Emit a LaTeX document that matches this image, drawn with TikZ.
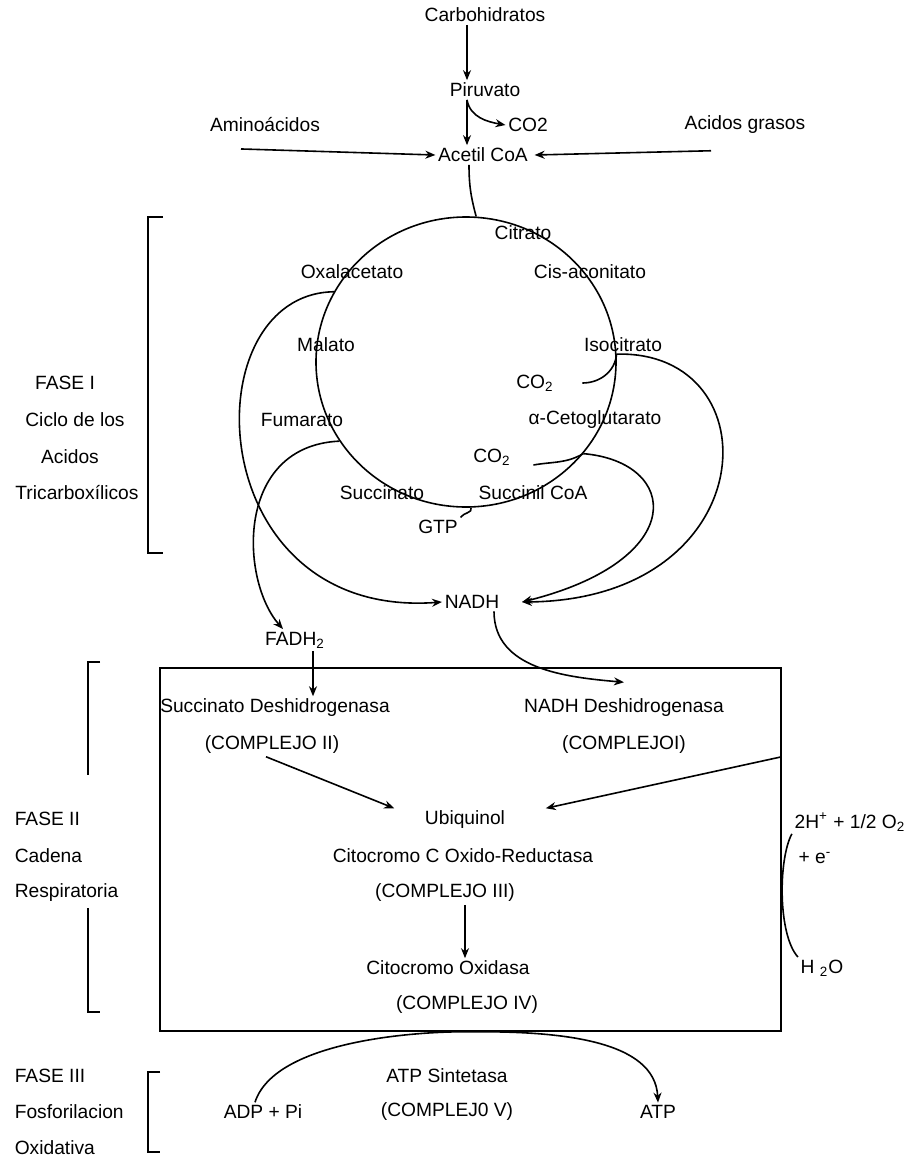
\documentclass[tikz,border=0pt]{standalone}
\usepackage{fontspec}
\setmainfont{Liberation Sans}
\usepackage{tikz}
\usetikzlibrary{arrows.meta,shapes.geometric}
\tikzset{txt/.style = {inner sep=1pt, font=\fontsize{9.6pt}{11pt}\selectfont}}
\tikzset{lft/.style = {txt, anchor=west}}
\tikzset{cycle/.style = {draw, ellipse, minimum width=150pt, minimum height=145pt}}

\begin{document}
\begin{tikzpicture}[x=0.5pt, y=-0.5pt, line width=0.8pt, >={Stealth[length=5pt,width=4pt]}]
\useasboundingbox (0,0) rectangle (915,1162);

% entrada
\node[txt] (carb) at (485,15) {Carbohidratos};
\node[txt] (piru) at (485,90) {Piruvato};
\node[txt] (co2a) at (528,125) {CO2};
\node[txt] (amino) at (265,125) {Aminoácidos};
\node[txt] (acgr) at (745,125) {Acidos grasos};
\node[txt] (acoa) at (483,155) {Acetil CoA};

% ciclo
\node[cycle] (cyc) at (466,362) {};
\node[txt] (citr) at (523,233) {Citrato};
\node[txt] (oxa) at (352,272) {Oxalacetato};
\node[txt] (cisa) at (590,272) {Cis-aconitato};
\node[txt] (mal) at (326,345) {Malato};
\node[txt] (isoc) at (623,345) {Isocitrato};
\node[txt] (co2b) at (535,383) {CO\textsubscript{2}};
\node[txt] (fum) at (302,420) {Fumarato};
\node[txt] (akg) at (595,420) {α-Cetoglutarato};
\node[txt] (co2c) at (492,457) {CO\textsubscript{2}};
\node[txt] (succ) at (382,493) {Succinato};
\node[txt] (sucoa) at (533,493) {Succinil CoA};
\node[txt] (gtp) at (438,527) {GTP};

\node[txt] (nadh) at (472,602) {NADH};
\node[txt] (fadh) at (295,640) {FADH\textsubscript{2}};

% cadena
\node[draw, minimum width=310.5pt, minimum height=181.5pt] (box) at (470.5,849.5) {};
\node[txt] (sdh) at (275,708) {Succinato Deshidrogenasa};
\node[txt] (c2) at (272,745) {(COMPLEJO II)};
\node[txt] (ndh) at (624,708) {NADH Deshidrogenasa};
\node[txt] (c1) at (624,745) {(COMPLEJOI)};
\node[txt] (ubiq) at (465,820) {Ubiquinol};
\node[txt] (ccr) at (463,856) {Citocromo C Oxido-Reductasa};
\node[txt] (c3) at (445,893) {(COMPLEJO III)};
\node[txt] (cox) at (448,968) {Citocromo Oxidasa};
\node[txt] (c4) at (467,1005) {(COMPLEJO IV)};
\node[txt] (o2) at (850,822) {2H\textsuperscript{+} + 1/2 O\textsubscript{2}};
\node[txt] (el) at (815,858) {+ e\textsuperscript{-}};
\node[txt] (h2o) at (822,968) {H \textsubscript{2}O};

% fosforilacion
\node[txt] (atps) at (447,1076) {ATP Sintetasa};
\node[txt] (c5) at (447,1112) {(COMPLEJ0 V)};
\node[txt] (adp) at (263,1112) {ADP + Pi};
\node[txt] (atp) at (658,1112) {ATP};

% fases
\node[txt] (f1a) at (65,383) {FASE I};
\node[txt] (f1b) at (75,420) {Ciclo de los};
\node[txt] (f1c) at (70,457) {Acidos};
\node[txt] (f1d) at (77,493) {Tricarboxílicos};
\node[lft] (f2a) at (12,819) {FASE II};
\node[lft] (f2b) at (12,856) {Cadena};
\node[lft] (f2c) at (12,893) {Respiratoria};
\node[lft] (f3a) at (12,1076) {FASE III};
\node[lft] (f3b) at (12,1112) {Fosforilacion};
\node[lft] (f3c) at (12,1148) {Oxidativa};

\draw (163,217) -- (148,217) -- (148,553) -- (163,553);
\draw (100,662) -- (88,662) -- (88,775);
\draw (88,908) -- (88,1012) -- (100,1012);
\draw (160,1072) -- (148,1072) -- (148,1152) -- (160,1152);

\path [->] ([xshift=-9pt]carb.south) edge ([xshift=-9pt]piru.north);
\path [->] ([xshift=-9pt]piru.south) edge ([xshift=-8pt]acoa.north);
\draw [->] ([xshift=-9pt]piru.south) to[out=-80,in=170] (co2a.west);
\path [->] ([shift={(-12pt,-7pt)}]amino.south) edge (acoa.west);
\path [->] ([shift={(-17pt,-7pt)}]acgr.south) edge ([xshift=2pt]acoa.east);
\draw ([xshift=-7pt]acoa.south) to[out=-90,in=105] (cyc.86);

\draw (cyc.3) to[out=-95,in=0] ([xshift=13pt]co2b.east);
\draw (cyc.-38) to[out=-150,in=10] ([shift={(10pt,-4pt)}]co2c.east);
\draw (cyc.-88) to[out=-70,in=60] (gtp.north east);

\draw [->] (cyc.152) .. controls (190,294) and (200,620) .. (nadh.west);
\draw [->] (cyc.212) .. controls (235,446) and (240,580) .. ([xshift=-6pt]fadh.north);
\draw [->] (cyc.3) .. controls (775,350) and (765,600) .. ([xshift=10pt]nadh.east);
\draw [->] (cyc.-38) .. controls (680,462) and (690,560) .. ([xshift=10pt]nadh.east);
\draw [->] ([xshift=11pt]nadh.south) to[out=-90,in=175] ([yshift=7pt]ndh.north);

\path [->] ([xshift=9pt]fadh.south) edge ([xshift=19pt]sdh.north);
\path [->] ([xshift=-3pt]c2.south) edge ([xshift=-14pt]ubiq.north west);
\path [->] (box.east |- c1.south) edge ([xshift=19pt]ubiq.north east);
\path [->] ([xshift=10pt]c3.south) edge ([xshift=8.5pt]cox.north);
\draw (o2.south west) .. controls (778,860) and (778,935) .. (h2o.north west);

\draw [->] ([xshift=-4pt]adp.north) .. controls (275,1040) and (420,1031) .. (box.south)
  .. controls (560,1031) and (655,1040) .. (atp.north);
\end{tikzpicture}
\end{document}
